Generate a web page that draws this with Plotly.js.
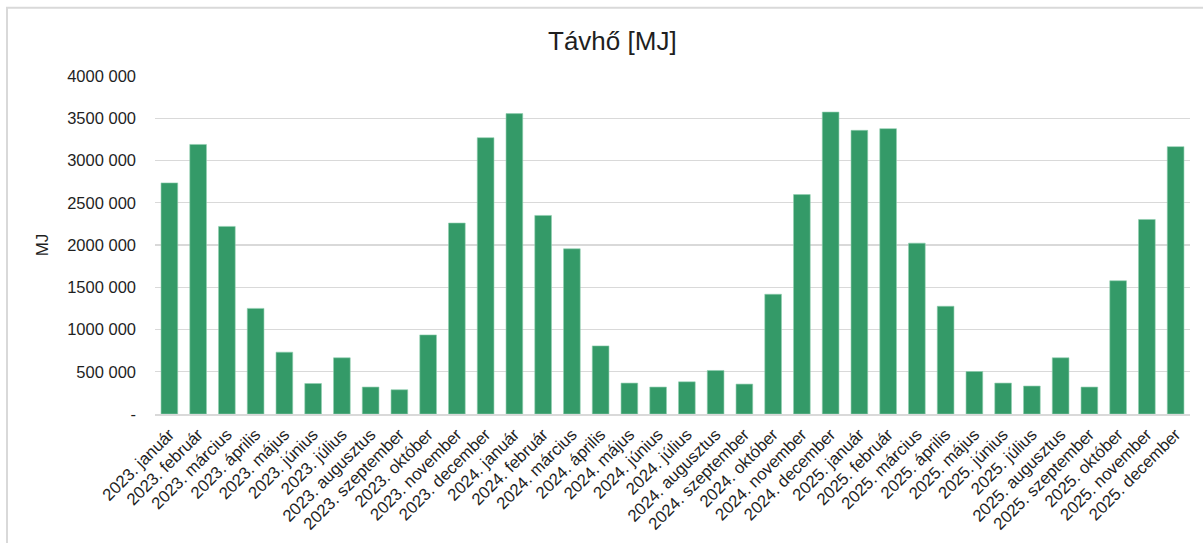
<!DOCTYPE html>
<html>
<head>
<meta charset="utf-8">
<script src="https://cdn.plot.ly/plotly-3.0.1.min.js"></script>
<style>html,body{margin:0;padding:0;background:#fff;}#chart{width:1203px;height:543px;}</style>
</head>
<body>
<div id="chart"></div>
<script>
const categories = [
  "2023. január","2023. február","2023. március","2023. április","2023. május","2023. június",
  "2023. július","2023. augusztus","2023. szeptember","2023. október","2023. november","2023. december",
  "2024. január","2024. február","2024. március","2024. április","2024. május","2024. június",
  "2024. július","2024. augusztus","2024. szeptember","2024. október","2024. november","2024. december",
  "2025. január","2025. február","2025. március","2025. április","2025. május","2025. június",
  "2025. július","2025. augusztus","2025. szeptember","2025. október","2025. november","2025. december"
];
const values = [
  2735000, 3190000, 2220000, 1250000, 732000, 361000,
  665000, 319000, 287000, 936000, 2260000, 3270000,
  3555000, 2350000, 1955000, 806000, 366000, 319000,
  381000, 515000, 354000, 1417000, 2597000, 3573000,
  3357000, 3377000, 2022000, 1275000, 503000, 366000,
  331000, 665000, 319000, 1577000, 2302000, 3164000
];
const tickValues = [0, 500000, 1000000, 1500000, 2000000, 2500000, 3000000, 3500000, 4000000];
const tickLabels = ["-", "500 000", "1000 000", "1500 000", "2000 000", "2500 000", "3000 000", "3500 000", "4000 000"];

const font = "Liberation Sans, Arial, sans-serif";

Plotly.newPlot("chart", [{
  type: "bar",
  x: categories,
  y: values,
  marker: {color: "#349a68", line: {color: "#8fcfae", width: 0.6}},
  hoverinfo: "x+y"
}], {
  width: 1203, height: 543,
  margin: {l: 155, r: 13, t: 75.5, b: 128.7, pad: 0},
  paper_bgcolor: "#ffffff",
  plot_bgcolor: "#ffffff",
  bargap: 0.42,
  showlegend: false,
  title: {text: "Távhő [MJ]", font: {family: font, size: 26, color: "#1f1f1f"}, x: 0.509, xanchor: "center", y: 0.925, yanchor: "middle"},
  xaxis: {
    type: "category",
    tickangle: -45,
    tickfont: {family: font, size: 16.8, color: "#1f1f1f"},
    showgrid: false,
    showline: true, linecolor: "#d9d9d9", linewidth: 2,
    ticks: "", automargin: false, ticklabelstandoff: 2
  },
  yaxis: {
    range: [0, 4000000],
    tickvals: tickValues,
    ticktext: tickLabels,
    tickfont: {family: font, size: 16.5, color: "#1f1f1f"},
    showgrid: true, gridcolor: "#d9d9d9", gridwidth: 1.3,
    zeroline: false,
    showline: false,
    ticks: "", ticklabelstandoff: 18,
    automargin: false,
    title: {text: "MJ", font: {family: font, size: 17, color: "#1f1f1f"}, standoff: 14}
  },
  shapes: [{
    type: "rect", xref: "paper", yref: "paper",
    x0: -0.143, x1: 1.03, y0: -0.6, y1: 1.202,
    line: {color: "#d9d9d9", width: 2}, fillcolor: "rgba(0,0,0,0)", layer: "below"
  }]
}, {staticPlot: true});
</script>
</body>
</html>
